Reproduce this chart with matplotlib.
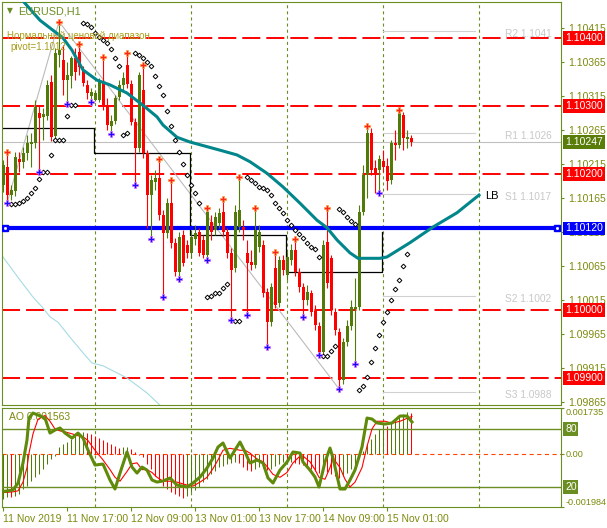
import matplotlib
matplotlib.use('Agg')
import matplotlib.pyplot as plt
from matplotlib import transforms

plt.rcParams['font.family'] = ['Liberation Sans', 'DejaVu Sans']
plt.rcParams['lines.scale_dashes'] = False

# EURUSD H1 candles, bar index 0 = 11 Nov 2019
open_ = [1.10184,1.10210,1.10169,1.10175,1.10222,1.10218,1.10231,1.10244,1.10246,1.10290,
         1.10284,1.10285,1.10335,1.10256,1.10375,1.10368,1.10338,1.10344,1.10371,1.10379,
         1.10353,1.10331,1.10315,1.10309,1.10309,1.10335,1.10301,1.10271,1.10278,1.10313,
         1.10331,1.10360,1.10332,1.10276,1.10238,1.10324,1.10231,1.10169,1.10188,1.10194,
         1.10140,1.10113,1.10157,1.10099,1.10056,1.10110,1.10096,1.10084,1.10104,1.10115,
         1.10103,1.10081,1.10129,1.10118,1.10128,1.10144,1.10115,1.10084,1.10062,1.10122,
         1.10122,1.10084,1.10071,1.10066,1.10093,1.10096,1.10026,1.09982,1.10062,1.10010,
         1.10074,1.10051,1.10074,1.10088,1.10056,1.10034,1.10015,1.10025,1.09999,1.09976,
         1.09938,1.10100,1.10076,1.09997,1.09968,1.09897,1.09953,1.09976,1.10001,1.10004,
         1.10144,1.10199,1.10260,1.10209,1.10206,1.10219,1.10212,1.10191,1.10246,1.10243,
         1.10287,1.10251,1.10253]
high = [1.10221,1.10232,1.10184,1.10232,1.10232,1.10240,1.10257,1.10260,1.10309,1.10301,
        1.10297,1.10338,1.10346,1.10385,1.10424,1.10390,1.10365,1.10374,1.10385,1.10391,
        1.10359,1.10338,1.10326,1.10324,1.10341,1.10372,1.10312,1.10287,1.10316,1.10338,
        1.10350,1.10378,1.10338,1.10282,1.10350,1.10360,1.10235,1.10199,1.10206,1.10222,
        1.10147,1.10165,1.10191,1.10106,1.10115,1.10118,1.10103,1.10118,1.10125,1.10121,
        1.10110,1.10150,1.10140,1.10144,1.10150,1.10163,1.10121,1.10091,1.10154,1.10195,
        1.10132,1.10103,1.10088,1.10150,1.10125,1.10103,1.10032,1.10040,1.10085,1.10079,
        1.10081,1.10085,1.10097,1.10104,1.10062,1.10040,1.10037,1.10029,1.10007,1.09982,
        1.10103,1.10150,1.10081,1.10003,1.09974,1.09959,1.09985,1.10015,1.10047,1.10154,
        1.10213,1.10271,1.10268,1.10221,1.10228,1.10235,1.10224,1.10250,1.10265,1.10294,
        1.10291,1.10265,1.10257]
low = [1.10174,1.10157,1.10162,1.10168,1.10203,1.10209,1.10221,1.10210,1.10238,1.10203,
       1.10250,1.10279,1.10249,1.10250,1.10357,1.10316,1.10303,1.10326,1.10338,1.10346,
       1.10329,1.10310,1.10306,1.10307,1.10306,1.10294,1.10265,1.10259,1.10274,1.10309,
       1.10324,1.10326,1.10272,1.10184,1.10232,1.10224,1.10121,1.10104,1.10176,1.10132,
       1.10019,1.10106,1.10091,1.10050,1.10046,1.10065,1.10076,1.10076,1.10096,1.10079,
       1.10076,1.10074,1.10103,1.10110,1.10121,1.10109,1.10076,1.09985,1.10056,1.10115,
       1.10103,1.09993,1.10059,1.10062,1.10085,1.10019,1.09946,1.09976,1.10003,1.10004,
       1.10051,1.10044,1.10066,1.10050,1.10026,1.09990,1.10007,1.09991,1.09971,1.09934,
       1.09932,1.10032,1.09993,1.09963,1.09884,1.09891,1.09947,1.09971,1.09921,1.10000,
       1.10140,1.10165,1.10199,1.10172,1.10172,1.10203,1.10176,1.10185,1.10221,1.10238,
       1.10235,1.10238,1.10241]
close = [1.10213,1.10169,1.10176,1.10225,1.10218,1.10231,1.10246,1.10247,1.10299,1.10282,
         1.10288,1.10331,1.10254,1.10378,1.10382,1.10338,1.10346,1.10371,1.10350,1.10357,
         1.10334,1.10319,1.10321,1.10319,1.10335,1.10301,1.10272,1.10278,1.10312,1.10331,
         1.10341,1.10332,1.10276,1.10238,1.10346,1.10231,1.10169,1.10191,1.10194,1.10140,
         1.10113,1.10157,1.10099,1.10056,1.10107,1.10069,1.10084,1.10107,1.10113,1.10084,
         1.10081,1.10144,1.10115,1.10137,1.10143,1.10115,1.10084,1.10059,1.10144,1.10147,
         1.10118,1.10069,1.10066,1.10118,1.10115,1.10025,1.09982,1.10034,1.10007,1.10074,
         1.10059,1.10078,1.10088,1.10056,1.10034,1.10015,1.10026,1.09997,1.09978,1.09938,
         1.10096,1.10040,1.10000,1.09971,1.09897,1.09953,1.09976,1.10004,1.10004,1.10144,
         1.10199,1.10260,1.10206,1.10201,1.10222,1.10210,1.10190,1.10246,1.10243,1.10290,
         1.10253,1.10254,1.10247]

up_fractals = [1, 14, 19, 25, 31, 35, 39, 42, 51, 55, 59, 63, 68, 73, 81, 91, 99]
down_fractals = [1, 9, 16, 22, 27, 33, 37, 40, 44, 51, 57, 61, 66, 75, 79, 84, 88, 94]

# parabolic SAR dots
sar_x = [2,3,4,5,6,7,8,9,10,11,12,13,14,15,16,17,18,
         20,21,22,23,24,25,26,27,28,29,
         30,31,
         33,34,35,36,37,38,39,40,41,42,43,44,45,46,47,48,49,
         51,52,53,54,55,56,
         58,59,
         61,62,63,64,65,66,67,68,69,70,71,72,73,74,75,76,77,78,79,
         80,81,82,83,
         84,85,86,87,88,
         89,90,91,92,93,94,95,96,97,98,99,100,101]
sar_y = [1.10156,1.10156,1.10157,1.10160,1.10165,1.10172,1.10179,1.10193,1.10203,1.10203,1.10228,1.10250,1.10250,1.10250,1.10285,1.10301,1.10301,
         1.10422,1.10421,1.10416,1.10407,1.10401,1.10397,1.10393,1.10384,1.10371,1.10359,
         1.10257,1.10260,
         1.10378,1.10375,1.10371,1.10365,1.10359,1.10344,1.10329,1.10316,1.10293,1.10271,1.10250,1.10232,1.10215,1.10199,1.10184,1.10172,1.10157,
         1.10019,1.10021,1.10025,1.10025,1.10032,1.10038,
         1.09984,1.09984,
         1.10196,1.10191,1.10187,1.10181,1.10179,1.10176,1.10169,1.10157,1.10150,1.10143,1.10132,1.10125,1.10118,1.10112,1.10106,1.10099,1.10093,1.10090,1.10078,
         1.09932,1.09932,1.09940,1.09947,
         1.10149,1.10144,1.10137,1.10131,1.10126,
         1.09882,1.09888,1.09901,1.09924,1.09944,1.09963,1.09982,1.09997,1.10015,1.10031,1.10044,1.10065,1.10082]

# shifted moving average (teal)
ma_x = [4.75,5.5,9.25,15,17.25,20,23.5,26.75,31,35,38.5,40,43.5,46.75,49.25,54.25,58.5,61.75,66,70,
        74.25,78.5,81,83.5,86.75,88.75,94.25,96,101.75,107.5,113.5,119]
ma_y = [1.10456,1.10451,1.10426,1.10400,1.10382,1.10353,1.10338,1.10331,1.10319,1.10301,
        1.10284,1.10272,1.10254,1.10247,1.10243,1.10235,1.10228,1.10218,1.10201,1.10181,
        1.10157,1.10132,1.10121,1.10103,1.10084,1.10076,1.10076,1.10078,1.10099,1.10122,1.10143,1.10169]

# lower band (light cyan)
band_x = [-0.25,4.25,7.5,10,11.75,13.75,16.75,20,22.25,25,31,36,39.25]
band_y = [1.10080,1.10044,1.10019,1.10003,1.09990,1.09982,1.09960,1.09937,1.09922,1.09918,1.09900,1.09878,1.09860]

# daily pivot steps (black)
step_x = [-1, 22.7, 46.7, 70.7, 94.7]
step_y = [1.10268, 1.10231, 1.10110, 1.10056, 1.10115]

# zigzag (grey)
zz_x = [1, 14, 84]
zz_y = [1.10157, 1.10424, 1.09884]

red_levels = [1.10400, 1.10300, 1.10200, 1.10000, 1.09900]
pivot = 1.10120
pp_names = ['R2 1.1041', 'R1 1.1026', 'S1 1.1017', 'S2 1.1002', 'S3 1.0988']
pp_levels = [1.1041, 1.1026, 1.1017, 1.1002, 1.0988]
day_sep = [23, 47, 71, 95, 119]
price_ticks = [1.10415, 1.10365, 1.10315, 1.10265, 1.10215, 1.10165, 1.10115,
               1.10065, 1.10015, 1.09965, 1.09915, 1.09865]
time_pos = [0, 16, 32, 48, 64, 80, 96]
time_labels = ['11 Nov 2019', '11 Nov 17:00', '12 Nov 09:00', '13 Nov 01:00',
               '13 Nov 17:00', '14 Nov 09:00', '15 Nov 01:00']

# AO histogram
ao = [-0.00169,-0.00162,-0.00162,-0.00158,-0.00150,-0.00132,-0.00120,-0.00102,-0.00086,-0.00075,
      -0.00056,-0.00038,-0.00019,-0.00008,0.00026,0.00038,0.00045,0.00056,0.00071,0.00080,
      0.00083,0.00079,0.00075,0.00068,0.00060,0.00052,0.00045,0.00038,0.00030,0.00022,
      0.00026,0.00028,0.00019,0.00008,-0.00002,-0.00011,-0.00038,-0.00056,-0.00083,-0.00100,
      -0.00120,-0.00132,-0.00143,-0.00150,-0.00158,-0.00163,-0.00158,-0.00143,-0.00135,-0.00124,
      -0.00105,-0.00094,-0.00075,-0.00064,-0.00049,-0.00045,-0.00038,-0.00034,-0.00030,-0.00034,
      -0.00049,-0.00060,-0.00064,-0.00056,-0.00049,-0.00052,-0.00060,-0.00056,-0.00045,-0.00038,
      -0.00030,-0.00034,-0.00030,-0.00034,-0.00038,-0.00041,-0.00049,-0.00056,-0.00064,-0.00071,
      -0.00064,-0.00068,-0.00075,-0.00083,-0.00090,-0.00083,-0.00071,-0.00056,-0.00041,-0.00015,
      0.00011,0.00038,0.00056,0.00075,0.00094,0.00109,0.00105,0.00117,0.00124,0.00138,
      0.00150,0.00160,0.001563]

# stochastic main / signal (0..100)
st_x = [-0.75,2.5,3.75,5,6,6.5,7.5,8.75,10.5,11.75,13,14.25,15.5,17.25,18.75,20,21.25,23,25,26.75,
        28,29.25,31,32.25,33.5,34.75,36,37.25,38.5,40,41.75,43.5,46,47.5,49.25,51,52.5,53.75,55,56.75,
        59.25,60.5,61.75,63.5,65,66.25,67.5,69.25,71,72.5,74.25,75,76.75,78,79,80.5,81.75,82.5,84.25,85.5,
        86.75,88,89.75,91,92.25,93.5,95.5,97.25,99.25,101,102.25]
st_main = [14.8,16.9,24,44.8,68.6,91.3,96.5,94.4,91.3,75.8,78.9,81,75.8,70.6,75.8,70.6,58.2,42.7,43.7,27.2,
           17.9,34.4,56.2,40.6,34.4,40.6,37.5,27.2,25.1,26.2,29.3,22,20,24.1,30.3,39.6,49.9,61.3,65.5,49.9,
           66.5,56.2,44.8,47.9,44.8,29.3,24.1,37.5,45.8,56.2,55.1,45.8,37.5,30.3,20,45.8,60.3,49.9,17.9,17.9,
           27.2,37.5,61.3,91.3,90.3,86.2,85.1,86.2,93.4,93.4,87.2]
st_signal = [14,15,16,25,40,55,75,90,94,88,80,78,77,75,73,72,68,58,48,38,
             30,26,36,44,45,38,38,35,30,26,26,25,22,21,25,30,39,48,58,60,
             58,58,55,49,46,40,33,30,35,45,52,52,46,38,30,28,40,50,40,28,
             20,25,40,62,80,88,88,86,88,91,93]

BULL = '#527a08'
BEAR = '#ff0000'
FRAME = '#6b8e23'
TXT = '#7d8a0c'

fig = plt.figure(figsize=(6.07, 5.28), dpi=100)
ax = fig.add_axes([2/607, 1-405/528, 559/607, 403/528])
ax2 = fig.add_axes([2/607, 1-507/528, 559/607, 99/528])
ax3 = ax2.twinx()

# main chart
for v in day_sep:
    ax.axvline(v, color=FRAME, lw=0.8, dashes=(2.2, 2.2), zorder=1)
for lv in red_levels:
    ax.axhline(lv, color=BEAR, lw=1.4, dashes=(13, 4.3), zorder=1)
ax.axhline(close[-1], color='#c0c0c0', lw=0.8, zorder=1)
ax.plot(band_x, band_y, color='#a6dbe3', lw=0.8, zorder=1)
ax.plot(zz_x, zz_y, color='#bbbbbb', lw=0.8, zorder=1)
ax.step(step_x, step_y, where='post', color='black', lw=0.9, zorder=2)
for name, lv in zip(pp_names, pp_levels):
    ax.plot([95, 118], [lv, lv], color='#d0d0d0', lw=0.8, zorder=1)
    ax.annotate(name, xy=(125.5, lv), xytext=(0, -3), textcoords='offset pixels',
                color='#c8c8c8', fontsize=7.3, va='center', ha='left')
ax.axhline(pivot, color='#0000ff', lw=3, zorder=2)
ax.plot([0.6, 138.6], [pivot, pivot], 's', ms=5, mfc='#0000ff', mec='#0000ff', zorder=3)
ax.plot([0.6, 138.6], [pivot, pivot], 's', ms=1, mfc='white', mec='white', zorder=3)

for i in range(len(open_)):
    col = BULL if close[i] >= open_[i] else BEAR
    ax.vlines(i, low[i], high[i], color=col, lw=0.8, zorder=4)
    lo = min(open_[i], close[i])
    h = max(abs(close[i] - open_[i]), 0.000015)
    ax.bar(i, h, bottom=lo, width=0.75, color=col, lw=0, zorder=4)

ax.plot(ma_x, ma_y, color='#00868b', lw=2.2, zorder=5)
ax.plot(sar_x, sar_y, 'D', ms=2.4, mfc='white', mec='black', mew=0.7, zorder=5)
ax.plot(up_fractals, [high[i] for i in up_fractals], 'P', ms=4.5, mfc='#ff2020',
        mec='#ffa040', mew=0.5, zorder=6)
ax.plot(down_fractals, [low[i] for i in down_fractals], 'P', ms=4.5, mfc='#1010ff',
        mec='#e070ff', mew=0.5, zorder=6)

ax.set_xlim(-0.25, 139.5)
ax.set_ylim(1.098603, 1.104529)
ax.set_xticks([])
ax.yaxis.tick_right()
ax.set_yticks(price_ticks)
ax.set_yticklabels(['%.5f' % t for t in price_ticks])
ax.tick_params(axis='y', colors=FRAME, labelcolor=TXT, length=2.5, pad=2.5, labelsize=7.5)
for s in ax.spines.values():
    s.set_color(FRAME)

blend = transforms.blended_transform_factory(ax.transAxes, ax.transData)
boxes = [(lv, BEAR) for lv in red_levels] + [(pivot, '#0000ff'), (close[-1], '#5a7d0a')]
for lv, c in boxes:
    ax.text(1 + 4/559, lv, '%.5f' % lv, transform=blend, ha='left', va='center', zorder=10,
            color='white', fontsize=7.5, bbox=dict(boxstyle='square,pad=0.18', fc=c, ec='none'))

ax.text(120.5, 1.10167, 'LB', color='black', fontsize=8, ha='left', va='center')

fig.text(10/607, 1-11/528, '\u25bc', color=FRAME, fontsize=5.5, ha='center', va='center',
         family=['DejaVu Sans'])
fig.text(18/607, 1-11/528, 'EURUSD,H1', color=FRAME, fontsize=7.8, ha='left', va='center')
fig.text(7/607, 1-36/528, 'Нормальный ценовой диапазон', color='#aa9e1c', fontsize=7,
         ha='left', va='center')
fig.text(10/607, 1-47/528, 'pivot=1.1012', color='#aa9e1c', fontsize=7, ha='left', va='center')

# AO + stochastic panel
for v in day_sep:
    ax2.axvline(v, color=FRAME, lw=0.8, dashes=(2.2, 2.2), zorder=1)
ax2.axhline(0, color='#ff4500', lw=0.8, dashes=(3, 2.5), zorder=2)
for i in range(len(ao)):
    col = BULL if i == 0 or ao[i] > ao[i-1] else BEAR
    ax2.vlines(i, 0, ao[i], color=col, lw=0.75, zorder=2)
ax2.set_xlim(-0.25, 139.5)
ax2.set_ylim(-0.001984, 0.001735)
ax2.yaxis.tick_right()
ax2.set_yticks([0.001735, 0, -0.001984])
ax2.set_yticklabels(['0.001735', '0.00', '-0.001984'])
for lbl, va in zip(ax2.get_yticklabels(which='both'), ['top', 'center', 'bottom']):
    lbl.set_va(va)
ax2.tick_params(axis='y', which='both', left=False, labelleft=False, right=True, labelright=True,
                colors=FRAME, labelcolor=TXT, length=2, pad=1.5, labelsize=6.6)
ax2.set_xticks(time_pos)
ax2.set_xticklabels(time_labels, ha='left')
ax2.tick_params(axis='x', colors=FRAME, labelcolor=TXT, length=3, pad=2, labelsize=7.5)
for s in ax2.spines.values():
    s.set_color(FRAME)

ax3.set_ylim(-0.7, 101.7)
ax3.axhline(80, color=FRAME, lw=1, zorder=1)
ax3.axhline(20, color=FRAME, lw=1, zorder=1)
ax3.plot(st_x, st_signal, color=BEAR, lw=0.8, zorder=3)
ax3.plot(st_x, st_main, color='#5f8a0a', lw=2.2, zorder=4)
ax3.set_yticks([])
for s in ax3.spines.values():
    s.set_visible(False)
blend3 = transforms.blended_transform_factory(ax3.transAxes, ax3.transData)
for lv in [80, 20]:
    ax3.text(1 + 4/559, lv, str(lv), transform=blend3, ha='left', va='center', color='white',
             fontsize=7.5, bbox=dict(boxstyle='square,pad=0.15', fc=FRAME, ec='none'))
ax2.text(7/559, 0.91, 'AO 0.001563', transform=ax2.transAxes, color=TXT, fontsize=7.5,
         ha='left', va='center')

fig.savefig('out.png', dpi=100)
